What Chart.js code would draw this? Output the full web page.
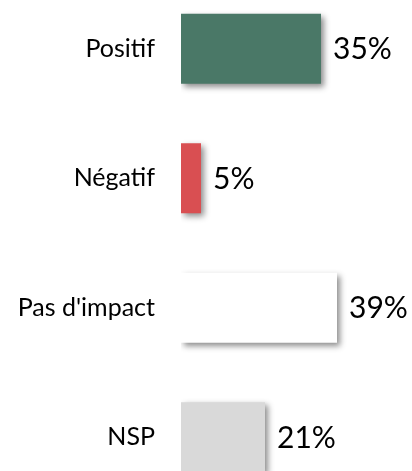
<!DOCTYPE html>
<html>
<head>
<meta charset="utf-8">
<script src="https://cdn.jsdelivr.net/npm/chart.js@4.4.1/dist/chart.umd.min.js"></script>
<style>
  html, body { margin: 0; padding: 0; background: #fff; overflow: hidden; }
  #wrap { position: relative; width: 412px; height: 471px; overflow: hidden; }
  #impact { position: absolute; left: 0; top: -16px; }
</style>
</head>
<body>
<div id="wrap"><canvas id="impact" width="412" height="518"></canvas></div>
<script>
const categories = ['Positif', 'Négatif', "Pas d'impact", 'NSP']
const shares = [35, 5, 39, 21]
const barColors = ['#4a7867', '#d94f52', '#ffffff', '#d9d9d9']

// soft drop shadow under every bar
const barShadow = {
  id: 'barShadow',
  beforeDatasetsDraw(chart) {
    const ctx = chart.ctx
    ctx.save()
    ctx.shadowColor = 'rgba(0, 0, 0, 0.45)'
    ctx.shadowBlur = 6
    ctx.shadowOffsetX = 3
    ctx.shadowOffsetY = 3
  },
  afterDatasetsDraw(chart) {
    chart.ctx.restore()
  }
}

// percentage written just after the end of each bar
const valueLabels = {
  id: 'valueLabels',
  afterDraw(chart) {
    const ctx = chart.ctx
    const meta = chart.getDatasetMeta(0)
    ctx.save()
    ctx.font = '30px Lato'
    ctx.fillStyle = '#000'
    ctx.textAlign = 'left'
    ctx.textBaseline = 'middle'
    meta.data.forEach((bar, i) => {
      ctx.fillText(shares[i] + '%', bar.x + 12, bar.y + 1)
    })
    ctx.restore()
  }
}

new Chart(document.getElementById('impact'), {
  type: 'bar',
  data: {
    labels: categories,
    datasets: [{
      data: shares,
      backgroundColor: barColors,
      borderWidth: 0,
      barPercentage: 0.9,
      categoryPercentage: 0.6
    }]
  },
  options: {
    indexAxis: 'y',
    responsive: false,
    animation: false,
    layout: { padding: { top: 0, bottom: 0, left: 0, right: 11 } },
    plugins: {
      legend: { display: false },
      tooltip: { enabled: false }
    },
    scales: {
      x: {
        display: false,
        min: 0,
        max: 55
      },
      y: {
        grid: { display: false, drawTicks: false },
        border: { display: false },
        ticks: {
          color: '#000',
          padding: 26,
          font: { family: 'Lato', size: 25 }
        },
        // fixed label column, and no extra room above/below the categories
        afterFit(scale) {
          scale.width = 181
          scale.paddingTop = 0
          scale.paddingBottom = 0
        }
      }
    }
  },
  plugins: [barShadow, valueLabels]
})
</script>
</body>
</html>
